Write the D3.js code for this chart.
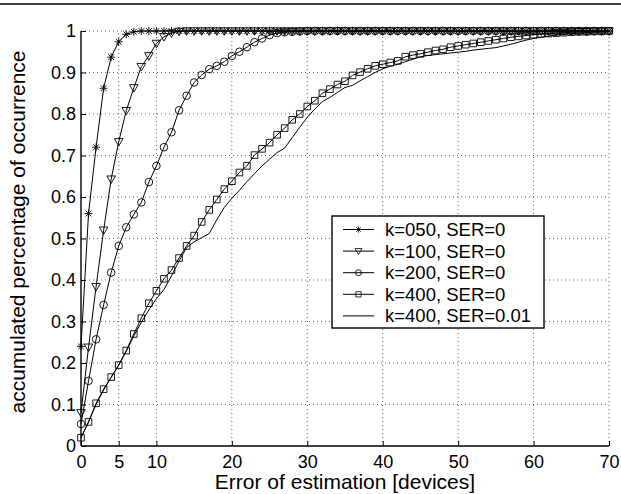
<!DOCTYPE html>
<html>
<head>
<meta charset="utf-8">
<script src="https://cdn.jsdelivr.net/npm/d3@7"></script>
<style>
  body { margin: 0; background: #fff; }
  svg { display: block; font-family: "Liberation Sans", Arial, Helvetica, sans-serif; }
</style>
</head>
<body>
<div id="chart"></div>
<script>
// error of estimation [devices]
var errors = [0,1,2,3,4,5,6,7,8,9,10,11,12,13,14,15,16,17,18,19,20,21,22,23,24,25,26,27,28,29,30,
  31,32,33,34,35,36,37,38,39,40,41,42,43,44,45,46,47,48,49,50,51,52,53,54,55,56,57,58,59,60,
  61,62,63,64,65,66,67,68,69,70];

var k050 = [0.24,0.56,0.72,0.862,0.937,0.974,0.992,0.998,1,1,
  1,1,1,1,1,1,1,1,1,1, 1,1,1,1,1,1,1,1,1,1, 1,1,1,1,1,1,1,1,1,1,
  1,1,1,1,1,1,1,1,1,1, 1,1,1,1,1,1,1,1,1,1, 1,1,1,1,1,1,1,1,1,1, 1];
var k100 = [0.08,0.238,0.384,0.52,0.643,0.733,0.808,0.863,0.914,0.94,
  0.97,0.986,0.995,0.999,1,1,1,1,1,1, 1,1,1,1,1,1,1,1,1,1, 1,1,1,1,1,1,1,1,1,1,
  1,1,1,1,1,1,1,1,1,1, 1,1,1,1,1,1,1,1,1,1, 1,1,1,1,1,1,1,1,1,1, 1];
var k200 = [0.053,0.157,0.257,0.34,0.418,0.482,0.527,0.558,0.587,0.636,
  0.675,0.72,0.756,0.809,0.844,0.876,0.894,0.908,0.916,0.926,
  0.94,0.95,0.961,0.973,0.982,0.99,0.995,0.997,0.998,0.999,
  1,1,1,1,1,1,1,1,1,1, 1,1,1,1,1,1,1,1,1,1, 1,1,1,1,1,1,1,1,1,1, 1,1,1,1,1,1,1,1,1,1, 1];
var k400 = [0.02,0.058,0.103,0.137,0.166,0.195,0.23,0.27,0.308,0.344,
  0.374,0.403,0.424,0.453,0.482,0.507,0.54,0.569,0.594,0.619,
  0.638,0.659,0.675,0.701,0.716,0.731,0.75,0.766,0.786,0.80,
  0.818,0.832,0.85,0.86,0.871,0.879,0.893,0.901,0.909,0.916,
  0.92,0.924,0.928,0.938,0.942,0.945,0.949,0.953,0.956,0.961,
  0.964,0.967,0.970,0.973,0.976,0.979,0.982,0.985,0.987,0.989,
  0.991,0.993,0.994,0.995,0.996,0.997,0.998,0.998,0.999,0.999, 1.0];
var k400ser = [0.02,0.058,0.1,0.135,0.165,0.195,0.228,0.265,0.298,0.328,
  0.355,0.377,0.41,0.446,0.478,0.492,0.502,0.512,0.545,0.575,
  0.597,0.616,0.637,0.656,0.675,0.691,0.707,0.718,0.743,0.768,
  0.792,0.812,0.83,0.84,0.852,0.864,0.869,0.88,0.89,0.9,
  0.909,0.915,0.92,0.926,0.932,0.938,0.941,0.943,0.945,0.947,
  0.949,0.951,0.954,0.956,0.958,0.96,0.964,0.968,0.973,0.978,
  0.982,0.985,0.988,0.99,0.992,0.994,0.995,0.996,0.997,0.998, 0.998];

var seriesNames = ["k=050, SER=0", "k=100, SER=0", "k=200, SER=0", "k=400, SER=0", "k=400, SER=0.01"];
var seriesValues = [k050, k100, k200, k400, k400ser];
var seriesMarkers = ["star", "tri", "circle", "square", "none"];

var xTicks = [0, 5, 10, 20, 30, 40, 50, 60, 70];
var yTicks = [0, 0.1, 0.2, 0.3, 0.4, 0.5, 0.6, 0.7, 0.8, 0.9, 1];

var width = 621, height = 494;
var plotL = 81, plotR = 609, plotT = 31, plotB = 446;

var svg = d3.select("#chart").append("svg")
    .attr("width", width)
    .attr("height", height);

// rule across the top of the page
svg.append("line")
    .attr("x1", 0).attr("x2", width)
    .attr("y1", 4).attr("y2", 4)
    .attr("stroke", "#000").attr("stroke-width", 1.6);

var x = d3.scaleLinear().domain([0, 70]).range([plotL, plotR]);
var y = d3.scaleLinear().domain([0, 1]).range([plotB, plotT]);

// dotted grid
var grid = svg.append("g").attr("stroke", "#444").attr("stroke-width", 0.8)
    .attr("stroke-dasharray", "1,3");
grid.selectAll(".gx").data(xTicks.filter(function(d) { return d > 0; }))
  .enter().append("line")
    .attr("x1", function(d) { return x(d); }).attr("x2", function(d) { return x(d); })
    .attr("y1", plotB).attr("y2", plotT);
grid.selectAll(".gy").data(yTicks.filter(function(d) { return d > 0; }))
  .enter().append("line")
    .attr("x1", plotL).attr("x2", plotR)
    .attr("y1", function(d) { return y(d); }).attr("y2", function(d) { return y(d); });

// axes
var xAxis = d3.axisBottom(x).tickValues(xTicks).tickSize(-5).tickPadding(9)
    .tickFormat(d3.format("d"));
var yAxis = d3.axisLeft(y).tickValues(yTicks).tickSize(-5).tickPadding(5)
    .tickFormat(function(d) { return d === 0 ? "0" : d === 1 ? "1" : d3.format(".1f")(d); });

var gx = svg.append("g").attr("transform", "translate(0," + plotB + ")").call(xAxis);
var gy = svg.append("g").attr("transform", "translate(" + plotL + ",0)").call(yAxis);
[gx, gy].forEach(function(g) {
  g.select(".domain").attr("stroke", "#000").attr("stroke-width", 1.4);
  g.selectAll(".tick line").attr("stroke", "#000").attr("stroke-width", 1);
  g.selectAll(".tick text").attr("fill", "#000")
    .style("font-size", "18px")
    .style("font-family", "'Liberation Sans', Arial, sans-serif");
});
gx.select(".domain").attr("d", "M" + plotL + ",0H" + plotR);
gy.select(".domain").attr("d", "M0," + plotB + "V" + plotT);

// markers
function markerPath(type) {
  if (type === "star") {
    var r = 4;
    var a = r * 0.72;
    return "M0," + (-r) + "V" + r + "M" + (-r) + ",0H" + r +
      "M" + (-a) + "," + (-a) + "L" + a + "," + a + "M" + (-a) + "," + a + "L" + a + "," + (-a);
  }
  if (type === "tri") return "M-4.3,-3.2L4.3,-3.2L0,4.3Z";
  if (type === "square") return "M-3.3,-3.3H3.3V3.3H-3.3Z";
  return null;
}

var line = d3.line()
    .x(function(d) { return x(d[0]); })
    .y(function(d) { return y(d[1]); });

seriesValues.forEach(function(vals, i) {
  var pts = errors.map(function(e, j) { return [e, vals[j]]; });
  var g = svg.append("g");
  g.append("path")
    .attr("d", line(pts))
    .attr("fill", "none")
    .attr("stroke", "#000")
    .attr("stroke-width", 1);
  var type = seriesMarkers[i];
  if (type === "none") return;
  if (type === "circle") {
    g.selectAll("circle").data(pts).enter().append("circle")
      .attr("cx", function(d) { return x(d[0]); })
      .attr("cy", function(d) { return y(d[1]); })
      .attr("r", 3.8)
      .attr("fill", "none").attr("stroke", "#000").attr("stroke-width", 0.9);
  } else {
    g.selectAll(".m").data(pts).enter().append("path")
      .attr("transform", function(d) { return "translate(" + x(d[0]) + "," + y(d[1]) + ")"; })
      .attr("d", markerPath(type))
      .attr("fill", "none").attr("stroke", "#000").attr("stroke-width", 0.9);
  }
});

// axis labels
svg.append("text")
    .attr("x", 345)
    .attr("y", 489)
    .attr("text-anchor", "middle")
    .style("font-size", "21px")
    .text("Error of estimation [devices]");
svg.append("text")
    .attr("transform", "translate(25,232) rotate(-90)")
    .attr("text-anchor", "middle")
    .style("font-size", "21px")
    .text("accumulated percentage of occurrence");

// legend
var lg = svg.append("g").attr("transform", "translate(332,216)");
lg.append("rect")
    .attr("width", 212).attr("height", 112)
    .attr("fill", "#fff").attr("stroke", "#000").attr("stroke-width", 1.4);
seriesNames.forEach(function(name, i) {
  var yy = 13.5 + i * 21.6;
  var row = lg.append("g").attr("transform", "translate(0," + yy + ")");
  row.append("line").attr("x1", 11).attr("x2", 42).attr("y1", 0).attr("y2", 0)
    .attr("stroke", "#000").attr("stroke-width", 1);
  var type = seriesMarkers[i];
  if (type === "circle") {
    row.append("circle").attr("cx", 26.5).attr("cy", 0).attr("r", 3)
      .attr("fill", "none").attr("stroke", "#000").attr("stroke-width", 0.9);
  } else if (type !== "none") {
    row.append("path").attr("transform", "translate(26.5,0) scale(0.8)")
      .attr("d", markerPath(type))
      .attr("fill", "none").attr("stroke", "#000").attr("stroke-width", 1);
  }
  row.append("text").attr("x", 53).attr("y", 6.5)
    .style("font-size", "18.5px")
    .text(name);
});
</script>
</body>
</html>
